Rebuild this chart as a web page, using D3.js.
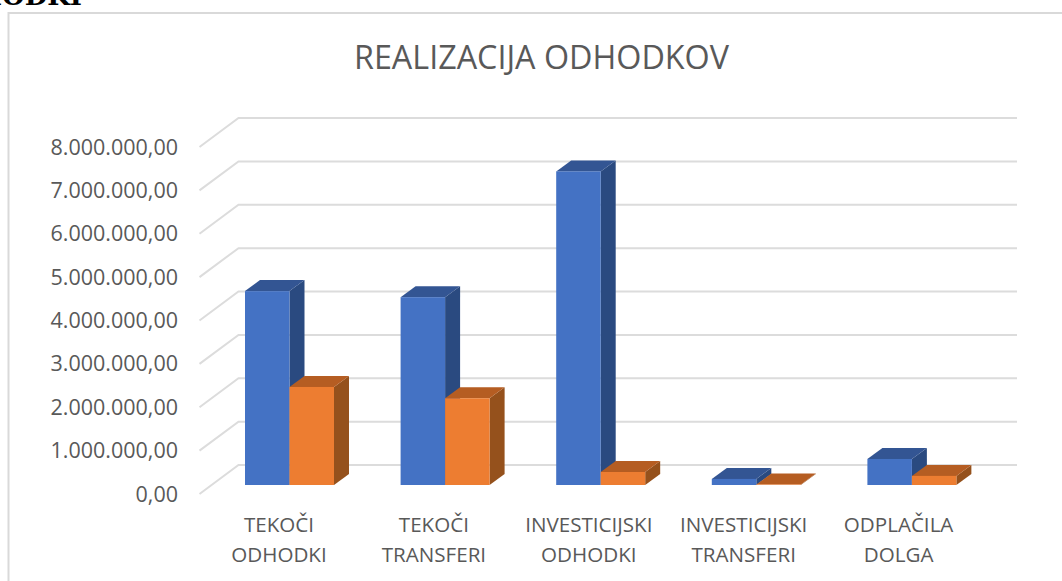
<!DOCTYPE html>
<html>
<head>
<meta charset="utf-8">
<script src="https://cdnjs.cloudflare.com/ajax/libs/d3/7.8.5/d3.min.js"></script>
<style>
  html, body { margin: 0; padding: 0; background: #fff; overflow: hidden; }
  text { font-family: "Open Sans", sans-serif; fill: #595959; }
</style>
</head>
<body>
<div id="chart"></div>
<script>
const categories = [
    ["TEKOČI", "ODHODKI"],
    ["TEKOČI", "TRANSFERI"],
    ["INVESTICIJSKI", "ODHODKI"],
    ["INVESTICIJSKI", "TRANSFERI"],
    ["ODPLAČILA", "DOLGA"]
];
const plan = [4470000, 4330000, 7230000, 140000, 600000];
const realizacija = [2260000, 2000000, 300000, 10000, 210000];
const ticks = [0, 1000000, 2000000, 3000000, 4000000, 5000000, 6000000, 7000000, 8000000];

const width = 1062, height = 581;

const svg = d3.select("#chart")
    .append("svg")
    .attr("width", width)
    .attr("height", height);

// cut off heading from the page above the chart
svg.append("text")
    .attr("x", 82)
    .attr("y", 5)
    .attr("text-anchor", "end")
    .style("font-family", "'DejaVu Serif', serif")
    .style("font-weight", "bold")
    .style("font-size", "26px")
    .style("fill", "#000")
    .text("ODHODKI");

// chart frame
svg.append("rect")
    .attr("x", 8.5)
    .attr("y", 13)
    .attr("width", 1100)
    .attr("height", 700)
    .attr("fill", "#fff")
    .attr("stroke", "#d9d9d9")
    .attr("stroke-width", 2);

svg.append("text")
    .attr("x", 541.5)
    .attr("y", 69)
    .attr("text-anchor", "middle")
    .style("font-size", "32.3px")
    .text("REALIZACIJA ODHODKOV");

// scales for the front plane of the bars
const y = d3.scaleLinear().domain([0, 8000000]).range([485, 138]);
const x0 = d3.scaleBand().domain(d3.range(categories.length)).range([211.7, 989.7]);
const barW = 44.5;
const depthX = 15, depthY = 11;

// gridlines: wall part is offset from the floor line of the bars
const gridY = v => y(v) - 20;
const grid = svg.append("g");
ticks.forEach(t => {
    grid.append("path")
        .attr("d", `M199.5,${gridY(t) + 29}L238.5,${gridY(t)}H1017`)
        .attr("fill", "none")
        .attr("stroke", "#dcdcdc")
        .attr("stroke-width", 2);
});

svg.append("g")
    .selectAll("text")
    .data(ticks)
    .enter()
    .append("text")
    .attr("x", 178)
    .attr("y", d => gridY(d) + 29)
    .attr("dy", ".35em")
    .attr("text-anchor", "end")
    .style("font-size", "21.5px")
    .text(d => d3.format(",.2f")(d).replace(/,/g, "#").replace(".", ",").replace(/#/g, "."));

// one 3d column: side, top, front
function drawBar(g, left, value, front, top, side) {
    const yv = y(value), yb = y(0), right = left + barW;
    g.append("path")
        .attr("d", `M${right},${yb}L${right + depthX},${yb - depthY}V${yv - depthY}L${right},${yv}Z`)
        .attr("fill", side);
    g.append("path")
        .attr("d", `M${left},${yv}L${left + depthX},${yv - depthY}H${right + depthX}L${right},${yv}Z`)
        .attr("fill", top);
    g.append("rect")
        .attr("x", left)
        .attr("y", yv)
        .attr("width", barW)
        .attr("height", yb - yv)
        .attr("fill", front);
}

const bars = svg.append("g");
categories.forEach((c, i) => {
    const left = x0(i) + (x0.bandwidth() - 2 * barW) / 2;
    drawBar(bars, left, plan[i], "#4472c4", "#335593", "#2a4a80");
    drawBar(bars, left + barW, realizacija[i], "#ed7d31", "#b55d22", "#95511c");
});

const labels = svg.append("g");
categories.forEach((c, i) => {
    const cx = x0(i) + x0.bandwidth() / 2 - 10.5 - i * 0.7;
    c.forEach((line, j) => {
        labels.append("text")
            .attr("x", cx)
            .attr("y", 532 + j * 30)
            .attr("text-anchor", "middle")
            .style("font-size", "20.6px")
            .text(line);
    });
});
</script>
</body>
</html>
